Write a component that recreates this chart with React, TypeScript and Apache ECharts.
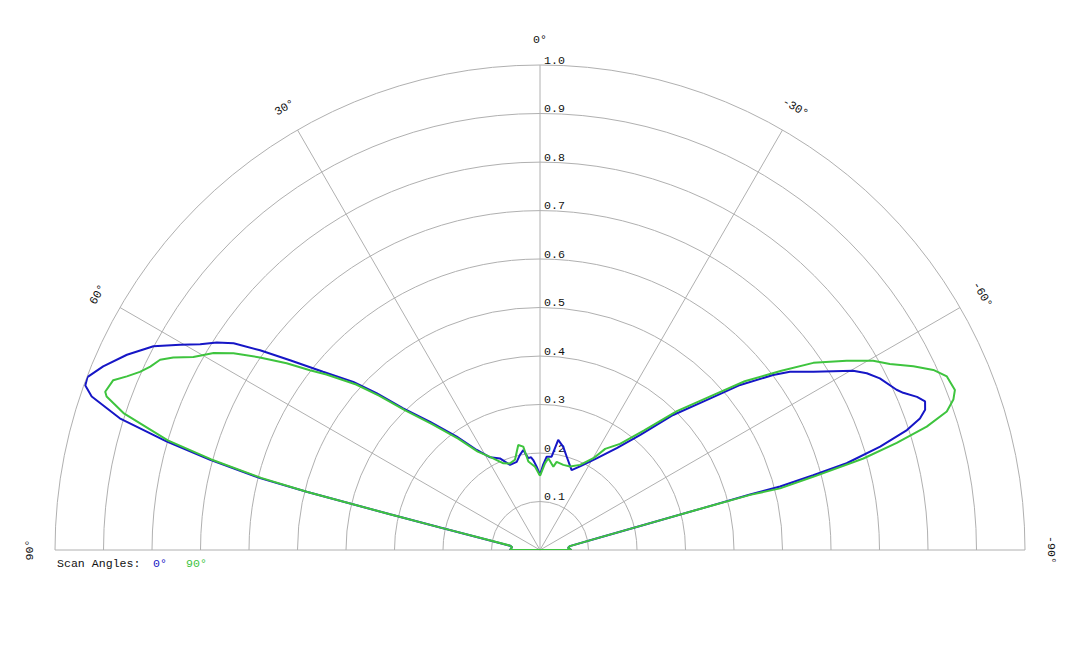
import React, { useEffect, useRef } from 'react';
import * as echarts from 'echarts';

const SERIES_NAMES = ['0°', '90°'];
const SERIES_COLORS = ['#1616c6', '#3ec43e'];

// Blue (scan angle 0°): angle in degrees (positive = left), normalised intensity
const BLUE_ANGLES = [
  -90, -86, -82.6, -78.2, -76.3, -75.6, -75.2, -75.2, -74.7, -74.2, -73.1, -71.9, -70.9, -70.0, -68.9,
  -67.9, -66.6, -65.8, -63.2, -61.6, -60.2, -56.9, -54.5, -53.1, -50.5, -48.0, -44.6, -41.0, -37.0,
  -31.7, -25.6, -21.6, -16.0, -12.7, -9.4, -7.1, -4.1, -2.0, 0, 2.3, 4.3, 5.5, 7.3, 9.5, 12.0, 14.8, 19.4,
  23.6, 28.3, 32.3, 36.3, 40.6, 44.0, 46.2, 48.0, 50.6, 52.8, 54.5, 56.0, 57.3, 58.8, 60.3, 62.2,
  64.7, 67.2, 69.1, 70.1, 71.1, 72.6, 73.8, 74.7, 75.6, 76.0, 76.6, 77.3, 79.2, 81.8, 84, 88, 90,
];
const BLUE_VALUES = [
  0.065, 0.058, 0.062, 0.126, 0.233, 0.341, 0.448, 0.512, 0.584, 0.657, 0.733, 0.796, 0.829, 0.845, 0.851,
  0.839, 0.816, 0.806, 0.785, 0.766, 0.744, 0.673, 0.633, 0.601, 0.535, 0.462, 0.391, 0.314, 0.263,
  0.222, 0.191, 0.177, 0.2, 0.218, 0.23, 0.194, 0.193, 0.175, 0.155, 0.172, 0.186, 0.192, 0.191, 0.209, 0.2, 0.188, 0.186,
  0.206, 0.217, 0.244, 0.29, 0.348, 0.406, 0.467, 0.518, 0.579, 0.647, 0.709, 0.762, 0.792, 0.819, 0.854, 0.901,
  0.942, 0.977, 0.999, 0.997, 0.977, 0.908, 0.801, 0.705, 0.596, 0.496, 0.318, 0.211, 0.105, 0.0625, 0.058, 0.06, 0.062,
];

// Green (scan angle 90°)
const GREEN_ANGLES = [
  -90, -86, -82.6, -78.2, -76.3, -75.6, -75.3, -75.6, -75.0, -74.2, -73.3, -72.3, -71.2, -70.0, -68.9,
  -66.9, -65.4, -63.8, -62.0, -60.4, -58.3, -55.6, -53.4, -50.5, -48.0, -44.6, -41.0, -37.0, -32.8,
  -30.2, -25.2, -19.8, -15.3, -10.7, -9.1, -5.2, -3.3, 0, 3.4, 7.5, 9.2, 11.7, 15.5, 19.1, 22.9, 28.2,
  32.3, 36.3, 40.6, 44.0, 46.2, 48.0, 50.6, 52.0, 53.6, 55.5, 57.3, 58.9, 60.9, 62.3, 63.4, 64.8, 66.0,
  67.2, 68.3, 70.0, 70.5, 71.8, 73.6, 74.6, 75.5, 76.0, 76.6, 77.3, 79.2, 81.8, 84, 88, 90,
];
const GREEN_VALUES = [
  0.065, 0.058, 0.062, 0.125, 0.232, 0.34, 0.448, 0.511, 0.583, 0.693, 0.768, 0.837, 0.886, 0.907, 0.917,
  0.912, 0.892, 0.858, 0.817, 0.79, 0.743, 0.683, 0.62, 0.547, 0.474, 0.402, 0.326, 0.274, 0.248,
  0.219, 0.194, 0.183, 0.182, 0.185, 0.174, 0.19, 0.179, 0.153, 0.172, 0.184, 0.216, 0.221, 0.193, 0.189, 0.194, 0.218,
  0.24, 0.285, 0.342, 0.4, 0.46, 0.51, 0.57, 0.602, 0.649, 0.701, 0.751, 0.786, 0.818, 0.854, 0.876, 0.888, 0.903,
  0.924, 0.947, 0.954, 0.948, 0.904, 0.8, 0.703, 0.594, 0.494, 0.316, 0.21, 0.104, 0.062, 0.058, 0.06, 0.062,
];

const ANGLE_TICKS = [90, 60, 30, 0, -30, -60, -90];
const RADIUS_TICKS = [0.1, 0.2, 0.3, 0.4, 0.5, 0.6, 0.7, 0.8, 0.9, 1.0];
const LEGEND_TITLE = 'Scan Angles:';

const CX = 540;
const CY = 550;
const R = 485;
const FONT = '11.6px "Liberation Mono", "DejaVu Sans Mono", monospace';
const GRID = '#b0b0b0';

function buildSeries(angles: number[], values: number[]) {
  const pts = angles.map((a, i) => [values[i], a]);
  const pos = pts.filter((p) => p[1] >= 0);
  const neg = pts.filter((p) => p[1] < 0);
  return [...pos, ...neg, pos[0]];
}

export default function App() {
  const ref = useRef<HTMLDivElement>(null);
  useEffect(() => {
    document.body.style.margin = '0';
    if (!ref.current) return;
    const chart = echarts.init(ref.current, undefined, { renderer: 'svg' });

    const angleLabels = ANGLE_TICKS.map((v) => {
      const rad = (v * Math.PI) / 180;
      const rr = R + 26;
      return {
        type: 'text',
        x: CX - rr * Math.sin(rad),
        y: CY - rr * Math.cos(rad),
        rotation: rad,
        style: {
          text: `${v}°`,
          fill: '#111',
          font: FONT,
          textAlign: 'center',
          align: 'center',
          textVerticalAlign: 'middle',
          verticalAlign: 'middle',
        },
      };
    });
    const radiusLabels = RADIUS_TICKS.map((v) => ({
      type: 'text',
      x: CX + 4,
      y: CY - v * R - 5,
      style: {
        text: v.toFixed(1),
        fill: '#111',
        font: FONT,
        textAlign: 'left',
        align: 'left',
        textVerticalAlign: 'middle',
        verticalAlign: 'middle',
      },
    }));
    const legendItems: any[] = [
      {
        type: 'text',
        x: 57,
        y: 563,
        style: { text: LEGEND_TITLE, fill: '#111', font: FONT, textVerticalAlign: 'middle', verticalAlign: 'middle' },
      },
      {
        type: 'text',
        x: 153,
        y: 563,
        style: { text: SERIES_NAMES[0], fill: SERIES_COLORS[0], font: FONT, textVerticalAlign: 'middle', verticalAlign: 'middle' },
      },
      {
        type: 'text',
        x: 186,
        y: 563,
        style: { text: SERIES_NAMES[1], fill: SERIES_COLORS[1], font: FONT, textVerticalAlign: 'middle', verticalAlign: 'middle' },
      },
    ];

    chart.setOption({
      animation: false,
      backgroundColor: '#ffffff',
      polar: { center: [CX, CY], radius: R },
      angleAxis: {
        type: 'value',
        min: -90,
        max: 90,
        interval: 30,
        startAngle: 0,
        endAngle: 180,
        clockwise: false,
        axisLine: { show: false },
        axisTick: { show: false },
        axisLabel: { show: false },
        splitLine: { show: true, lineStyle: { color: GRID, width: 1 } },
      },
      radiusAxis: {
        type: 'value',
        min: 0,
        max: 1,
        interval: 0.1,
        axisLine: { show: false },
        axisTick: { show: false },
        axisLabel: { show: false },
        splitLine: { show: true, lineStyle: { color: GRID, width: 1 } },
      },
      series: [
        {
          name: SERIES_NAMES[0],
          type: 'line',
          coordinateSystem: 'polar',
          data: buildSeries(BLUE_ANGLES, BLUE_VALUES),
          showSymbol: false,
          symbol: 'none',
          clip: false,
          lineStyle: { color: SERIES_COLORS[0], width: 2 },
          z: 3,
        },
        {
          name: SERIES_NAMES[1],
          type: 'line',
          coordinateSystem: 'polar',
          data: buildSeries(GREEN_ANGLES, GREEN_VALUES),
          showSymbol: false,
          symbol: 'none',
          clip: false,
          lineStyle: { color: SERIES_COLORS[1], width: 2 },
          z: 4,
        },
      ],
      graphic: [...angleLabels, ...radiusLabels, ...legendItems],
    });
    return () => chart.dispose();
  }, []);
  return <div ref={ref} style={{ width: 1080, height: 648 }} />;
}
